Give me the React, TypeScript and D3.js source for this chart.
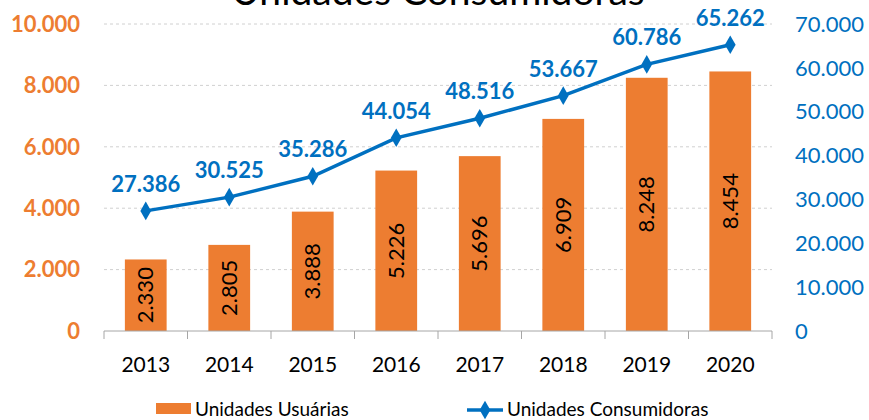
import React from "react";
import * as d3 from "d3";

const years = ["2013", "2014", "2015", "2016", "2017", "2018", "2019", "2020"];
const usuarias = [2330, 2805, 3888, 5226, 5696, 6909, 8248, 8454];
const consumidoras = [27386, 30525, 35286, 44054, 48516, 53667, 60786, 65262];
const leftTicks = [0, 2000, 4000, 6000, 8000, 10000];
const rightTicks = [0, 10000, 20000, 30000, 40000, 50000, 60000, 70000];

const ORANGE = "#ED7D31";
const BLUE = "#0070C0";
const FONT = "Lato, 'Open Sans', sans-serif";

const fmt = (v: number) => {
  const s = d3.format(",")(v);
  return s.replace(/,/g, ".");
};

export default function App() {
  const W = 869, H = 420;
  const left = 104, right = 772, top = 24, bottom = 331;
  const x = d3.scaleBand<string>().domain(years).range([left, right]).paddingInner(0.5).paddingOuter(0.25);
  const xb = d3.scaleBand<string>().domain(years).range([left, right]);
  const yL = d3.scaleLinear().domain([0, 10000]).range([bottom, top]);
  const yR = d3.scaleLinear().domain([0, 70000]).range([bottom, top]);
  const line = d3.line<number>().x((_, i) => xb(years[i])! + xb.bandwidth() / 2).y((d) => yR(d));
  const diamond = d3.symbol().type(d3.symbolDiamond).size(100)()!;

  return (
    <svg width={W} height={H} style={{ position: "absolute", left: 0, top: 0, background: "#fff" }} fontFamily={FONT}>
      <text x={438} y={5} textAnchor="middle" fontSize={39} fill="#000">Unidades Consumidoras</text>
      {leftTicks.filter((t) => t > 0).map((t) => (
        <line key={t} x1={left} x2={right} y1={yL(t)} y2={yL(t)} stroke="#d0d0d0" strokeDasharray="3,3" strokeWidth={1} />
      ))}
      {leftTicks.map((t) => (
        <text key={t} x={80} y={yL(t)} dy="0.35em" textAnchor="end" fontSize={22} fontWeight="bold" fill={ORANGE}>{fmt(t)}</text>
      ))}
      {rightTicks.map((t) => (
        <text key={t} x={795} y={yR(t)} dy="0.35em" textAnchor="start" fontSize={22} fill={BLUE}>{fmt(t)}</text>
      ))}
      {usuarias.map((v, i) => (
        <rect key={i} x={x(years[i])} y={yL(v)} width={x.bandwidth()} height={bottom - yL(v)} fill={ORANGE} />
      ))}
      {usuarias.map((v, i) => {
        const cx = x(years[i])! + x.bandwidth() / 2;
        const cy = (yL(v) + bottom) / 2;
        return (
          <text key={i} transform={`translate(${cx},${cy}) rotate(-90)`} textAnchor="middle" dy="0.35em" fontSize={22} fill="#000">{fmt(v)}</text>
        );
      })}
      <line x1={left} x2={right} y1={bottom} y2={bottom} stroke="#a6a6a6" strokeWidth={1} />
      {years.concat([""]).map((_, i) => {
        const xx = left + i * xb.bandwidth();
        return <line key={i} x1={xx} x2={xx} y1={bottom} y2={bottom + 8} stroke="#a6a6a6" strokeWidth={1} />;
      })}
      {years.map((yv) => (
        <text key={yv} x={xb(yv)! + xb.bandwidth() / 2} y={372} textAnchor="middle" fontSize={21} fill="#000">{yv}</text>
      ))}
      <path d={line(consumidoras)!} fill="none" stroke={BLUE} strokeWidth={3.5} />
      {consumidoras.map((v, i) => (
        <path key={i} d={diamond} transform={`translate(${xb(years[i])! + xb.bandwidth() / 2},${yR(v)})`} fill={BLUE} />
      ))}
      {consumidoras.map((v, i) => (
        <text key={i} x={xb(years[i])! + xb.bandwidth() / 2} y={yR(v) - 19} textAnchor="middle" fontSize={22} fontWeight="bold" fill={BLUE}>{fmt(v)}</text>
      ))}
      <rect x={156} y={403} width={35} height={11} fill={ORANGE} />
      <text x={195} y={416} fontSize={19} fill="#000">Unidades Usuárias</text>
      <line x1={467} x2={503} y1={410} y2={410} stroke={BLUE} strokeWidth={3.5} />
      <path d={diamond} transform="translate(485,410)" fill={BLUE} />
      <text x={507} y={416} fontSize={19} fill="#000">Unidades Consumidoras</text>
    </svg>
  );
}
